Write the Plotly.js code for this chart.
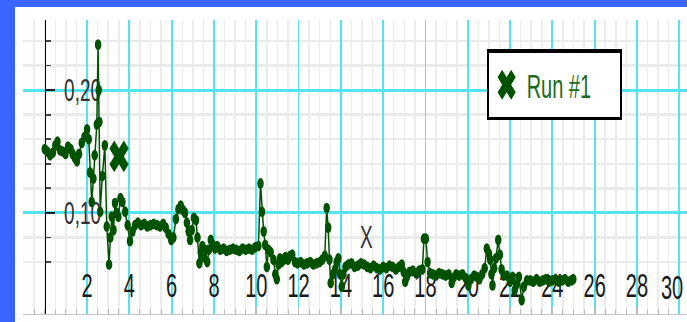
<!DOCTYPE html>
<html>
<head>
<meta charset="utf-8">
<script src="https://cdn.plot.ly/plotly-3.0.1.min.js"></script>
<style>
  html, body { margin: 0; padding: 0; background: #3a66ff; overflow: hidden; }
  #frame { position: relative; width: 687px; height: 322px; overflow: hidden; background: #3a66ff; }
  /* the chart is drawn at a compact height and stretched vertically */
  #chart { position: absolute; left: 15px; top: 7px; width: 700px; height: 191px;
           transform: scaleY(1.6492); transform-origin: 0 0; background: #fff; }
</style>
</head>
<body>
<div id="frame"><div id="chart"></div></div>
<script>
// Run #1 measurements
const runX = [
  0.00, 0.12, 0.25, 0.38, 0.50, 0.60, 0.72, 0.85, 0.98, 1.10, 1.22, 1.32, 1.42, 1.52, 1.62, 1.75, 1.88, 2.00,
  2.08, 2.14, 2.22, 2.30, 2.36, 2.46, 2.52, 2.55, 2.58, 2.62, 2.72, 2.84, 2.93, 3.04, 3.10, 3.17, 3.25, 3.32, 3.40, 3.48, 3.58, 3.67, 3.80, 3.92, 4.03, 4.15, 4.27, 4.40,
  4.55, 4.70, 4.85, 5.00, 5.15, 5.30, 5.45, 5.60, 5.72, 5.85, 5.98, 6.08,
  6.20, 6.32, 6.43, 6.55, 6.63, 6.72, 6.80, 6.87, 6.95, 7.05, 7.15, 7.22,
  7.31, 7.38, 7.45, 7.52, 7.60, 7.68, 7.76, 7.85, 7.95, 8.05, 8.15,
  8.30, 8.45, 8.60, 8.75, 8.90, 9.05, 9.20, 9.35, 9.50, 9.65, 9.80, 9.95, 10.10,
  10.20, 10.27, 10.35, 10.42, 10.50, 10.58, 10.68, 10.81, 10.90, 10.97,
  11.05, 11.12, 11.20, 11.30, 11.38, 11.50, 11.60, 11.70, 11.83,
  11.95, 12.10, 12.25, 12.40, 12.55, 12.70, 12.85, 13.00, 13.12, 13.24,
  13.33, 13.40, 13.46, 13.52, 13.62, 13.73, 13.80, 13.88, 13.96, 14.04, 14.12, 14.22,
  14.35, 14.50, 14.65, 14.80, 14.95, 15.10, 15.25, 15.40, 15.55, 15.70, 15.85, 16.00,
  16.15, 16.30, 16.45, 16.60, 16.75, 16.88, 16.97, 17.04, 17.12, 17.25, 17.40, 17.55,
  17.70, 17.85, 17.93, 18.02, 18.10, 18.22,
  18.35, 18.50, 18.65, 18.80, 18.95, 19.10, 19.24, 19.32, 19.45, 19.60, 19.75, 19.90,
  20.03, 20.15, 20.30, 20.43, 20.55, 20.68, 20.80, 20.90, 21.00, 21.06, 21.12, 21.17,
  21.25, 21.33, 21.44, 21.52, 21.60, 21.70, 21.85, 22.00, 22.12, 22.22, 22.32, 22.42, 22.55, 22.65, 22.80,
  22.95, 23.10, 23.25, 23.40, 23.55, 23.70, 23.85, 24.00, 24.15, 24.30, 24.45, 24.60, 24.75, 24.90, 24.99
];
const runY = [
  0.152, 0.150, 0.147, 0.149, 0.155, 0.158, 0.151, 0.150, 0.148, 0.154, 0.152, 0.148, 0.145, 0.142, 0.148, 0.157, 0.162, 0.168,
  0.160, 0.133, 0.109, 0.128, 0.147, 0.172, 0.237, 0.200, 0.174, 0.101, 0.130, 0.155, 0.089, 0.058, 0.080, 0.097, 0.086, 0.108, 0.100, 0.097, 0.112, 0.109, 0.101, 0.090, 0.077, 0.085, 0.090, 0.092,
  0.090, 0.091, 0.089, 0.090, 0.091, 0.090, 0.089, 0.091, 0.088, 0.083, 0.078, 0.080,
  0.095, 0.103, 0.106, 0.102, 0.100, 0.092, 0.085, 0.078, 0.086, 0.096, 0.094, 0.080,
  0.059, 0.068, 0.073, 0.064, 0.070, 0.060, 0.070, 0.078, 0.074, 0.071, 0.073,
  0.070, 0.071, 0.069, 0.070, 0.071, 0.070, 0.069, 0.071, 0.070, 0.071, 0.070, 0.072, 0.073,
  0.124, 0.101, 0.085, 0.074, 0.056, 0.070, 0.068, 0.062, 0.050, 0.046,
  0.058, 0.063, 0.060, 0.062, 0.064, 0.062, 0.065, 0.066, 0.060,
  0.059, 0.060, 0.058, 0.059, 0.060, 0.058, 0.059, 0.060, 0.062, 0.065,
  0.104, 0.088, 0.062, 0.043, 0.050, 0.054, 0.060, 0.063, 0.050, 0.040, 0.050, 0.056,
  0.058, 0.059, 0.056, 0.057, 0.059, 0.058, 0.056, 0.055, 0.057, 0.055, 0.054, 0.056,
  0.055, 0.057, 0.056, 0.054, 0.056, 0.058, 0.052, 0.044, 0.048, 0.052, 0.053, 0.051,
  0.053, 0.054, 0.079, 0.079, 0.060, 0.051,
  0.050, 0.049, 0.051, 0.050, 0.049, 0.050, 0.043, 0.047, 0.050, 0.049, 0.050, 0.047,
  0.041, 0.046, 0.049, 0.048, 0.046, 0.050, 0.055, 0.071, 0.067, 0.062, 0.050, 0.041,
  0.055, 0.063, 0.078, 0.066, 0.054, 0.049, 0.049, 0.044, 0.048, 0.037, 0.042, 0.048, 0.029, 0.040, 0.045,
  0.045, 0.044, 0.046, 0.044, 0.045, 0.046, 0.044, 0.045, 0.046, 0.044, 0.045, 0.046, 0.044, 0.045, 0.046
];

// highlighted point (cross marker)
const markX = [3.51];
const markY = [0.146];

// free text label on the plot
const noteX = 15.19;
const noteY = 0.080;
const noteText = 'X';

const seriesName = 'Run #1';
const xTickVals = [2, 4, 6, 8, 10, 12, 14, 16, 18, 20, 22, 24, 26, 28, 30];
const xTickText = ['2', '4', '6', '8', '10', '12', '14', '16', '18', '20', '22', '24', '26', '28', '30'];

const GREEN = '#005200';
const CYAN = '#55e3ef';
const MINOR = '#ebebeb';
const FONT = 'Liberation Sans, Arial, sans-serif';
const TICKFONT = { family: FONT, size: 20, color: '#1a1a1a' };

const xMin = -1.03, xMax = 31.69;

// the last label sits at the right border, so it is pulled inward as a separate note
const lastIdx = xTickVals.length - 1;
const axisTickText = xTickText.map((t, i) => (i === lastIdx ? '' : t));

const traces = [
  {
    x: runX, y: runY, type: 'scatter', mode: 'lines+markers',
    name: seriesName, legendgroup: 'run1', showlegend: false,
    line: { color: GREEN, width: 1.5 },
    marker: { color: GREEN, size: 6.5, symbol: 'circle' },
    hoverinfo: 'none'
  },
  {
    x: markX, y: markY, type: 'scatter', mode: 'markers',
    name: seriesName, legendgroup: 'run1', showlegend: true,
    marker: { color: GREEN, size: 17, symbol: 'x' },
    hoverinfo: 'none'
  }
];

const layout = {
  width: 700, height: 191,
  margin: { l: 8, r: 0, t: 7.9, b: 4.8, pad: 0 },
  paper_bgcolor: '#ffffff', plot_bgcolor: '#ffffff',
  separators: ', ',
  font: { family: FONT, color: '#333' },
  showlegend: true,
  xaxis: {
    range: [xMin, xMax],
    tickmode: 'array', tickvals: xTickVals, ticktext: axisTickText,
    ticks: 'inside', ticklen: 4, tickwidth: 1, tickcolor: '#bdbdbd',
    ticklabelposition: 'inside', ticklabelstandoff: 3,
    tickfont: TICKFONT,
    showline: true, linecolor: '#c4c4c4', linewidth: 1,
    showgrid: true, gridcolor: CYAN, gridwidth: 1.8,
    zeroline: false, layer: 'below traces', automargin: false,
    minor: { tickmode: 'linear', tick0: 0, dtick: 0.5, showgrid: true, gridcolor: MINOR, gridwidth: 1.5,
             ticks: 'inside', ticklen: 3, tickcolor: '#bdbdbd' }
  },
  yaxis: {
    range: [0.0179, 0.2569],
    anchor: 'free', position: (0 - xMin) / (xMax - xMin), side: 'right',
    tickmode: 'linear', tick0: 0, dtick: 0.1, tickformat: '.2f',
    ticks: 'outside', ticklen: 9, tickwidth: 1.1, tickcolor: '#222',
    ticklabelposition: 'outside', ticklabelstandoff: 5,
    tickfont: { family: FONT, size: 19, color: '#333' },
    showline: true, linecolor: '#000', linewidth: 1.5,
    showgrid: true, gridcolor: CYAN, gridwidth: 1.8,
    zeroline: false, layer: 'below traces', automargin: false,
    minor: { tickmode: 'linear', tick0: 0, dtick: 0.02, showgrid: true, gridcolor: MINOR, gridwidth: 1.5,
             ticks: 'outside', ticklen: 5, tickcolor: '#444' }
  },
  legend: {
    orientation: 'h',
    x: 0.670, y: 0.901, xanchor: 'left', yanchor: 'top',
    bgcolor: '#ffffff', bordercolor: '#000', borderwidth: 2,
    font: { family: FONT, size: 20, color: '#1d6b1d' },
    entrywidth: 88, entrywidthmode: 'pixels'
  },
  annotations: [
    { x: noteX, y: noteY, xref: 'x', yref: 'y', text: noteText, showarrow: false,
      font: { family: FONT, size: 19, color: '#333' } },
    { x: xTickVals[lastIdx], y: 0.092, xref: 'x', yref: 'paper', text: xTickText[lastIdx],
      showarrow: false, xanchor: 'center', yanchor: 'middle', xshift: -7, font: TICKFONT }
  ]
};

Plotly.newPlot('chart', traces, layout, { staticPlot: true, displayModeBar: false });
</script>
</body>
</html>
